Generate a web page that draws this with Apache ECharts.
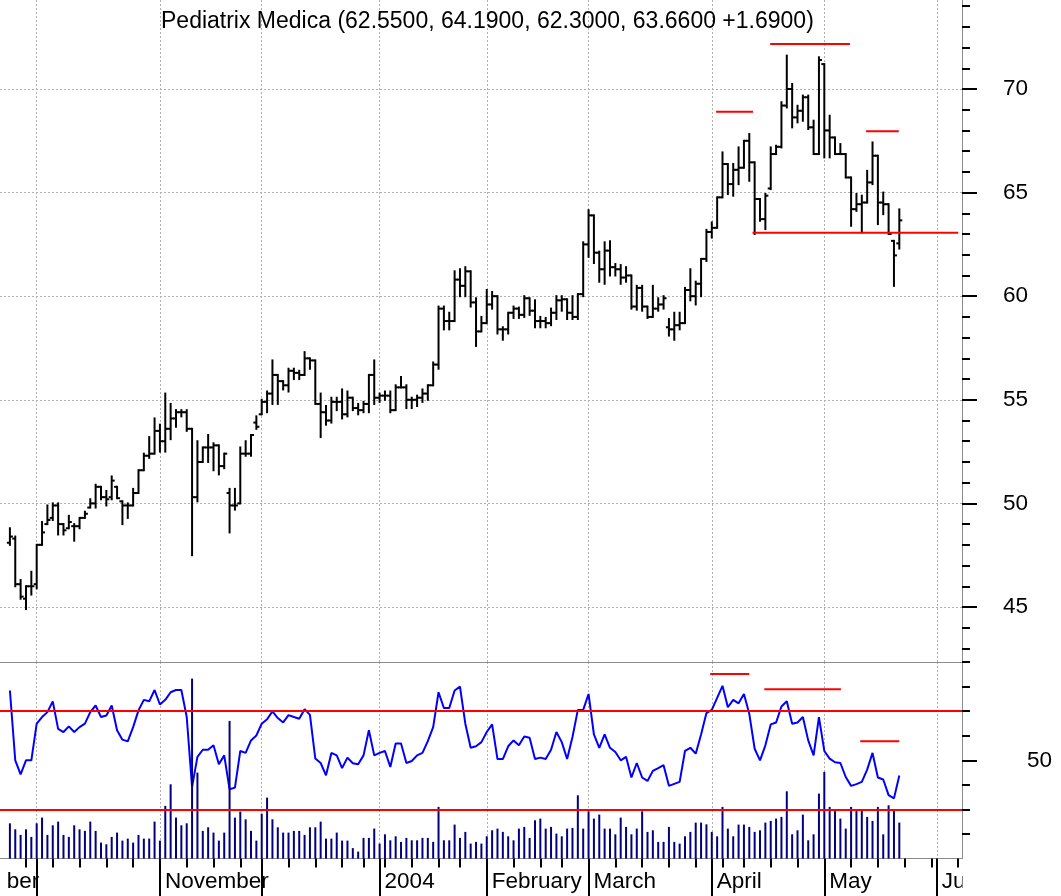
<!DOCTYPE html>
<html>
<head>
<meta charset="utf-8">
<title>Pediatrix Medica</title>
<script src="https://cdn.jsdelivr.net/npm/echarts@6/dist/echarts.min.js"></script>
<style>
  html, body { margin: 0; padding: 0; background: #fff; }
  #chart { width: 1061px; height: 896px; }
</style>
</head>
<body>
<div id="chart"></div>
<script>
const chartTitle = 'Pediatrix Medica (62.5500, 64.1900, 62.3000, 63.6600 +1.6900)';

// trading calendar: first bar 2003-09-24, last bar 2004-05-21
const calendarFrom = '2003-09-02';
const calendarTo = '2004-06-08';
const firstBar = '2003-09-24';
const lastBar = '2004-05-21';
const holidays = ['2003-11-27', '2003-12-25', '2004-01-01', '2004-01-19', '2004-02-16', '2004-04-09'];
const monthNames = {
    '2003-09': 'September', '2003-11': 'November', '2004-01': '2004', '2004-02': 'February',
    '2004-03': 'March', '2004-04': 'April', '2004-05': 'May', '2004-06': 'June'
};

const opens = [
    48.1, 48.3, 46.1, 45.4, 46.0, 46.1, 48.0, 49.0, 49.3, 49.9,
    49.0, 48.8, 48.9, 48.9, 49.3, 49.8, 50.0, 50.8, 50.3, 50.3,
    50.8, 50.1, 49.9, 49.9, 50.5, 51.6, 52.3, 52.4, 53.5, 53.0,
    53.6, 54.1, 54.4, 54.4, 53.6, 50.3, 52.0, 52.7, 52.7, 52.8,
    51.8, 50.5, 49.9, 50.0, 52.4, 52.4, 53.9, 54.3, 54.9, 55.3,
    56.2, 55.9, 55.7, 56.4, 56.3, 56.2, 57.0, 56.9, 54.8, 54.4,
    54.0, 54.9, 54.9, 54.3, 55.1, 54.6, 54.5, 54.8, 56.2, 55.1,
    55.2, 55.2, 54.5, 55.6, 55.6, 55.0, 55.0, 55.1, 55.3, 55.7,
    56.7, 59.4, 58.8, 58.8, 60.8, 60.5, 61.2, 59.7, 58.3, 58.7,
    59.6, 60.0, 58.4, 58.4, 59.2, 59.4, 59.1, 59.9, 59.3, 58.8,
    58.8, 58.7, 59.2, 59.8, 59.85, 59.2, 59.0, 60.1, 62.5, 63.9,
    62.1, 61.3, 62.2, 61.4, 61.3, 60.9, 61.0, 59.5, 60.4, 59.5,
    59.0, 59.4, 59.6, 58.5, 58.4, 58.6, 58.7, 60.3, 60.0, 60.6,
    61.8, 63.1, 63.3, 64.77, 66.38, 65.41, 66.1, 66.2, 67.5, 66.46,
    64.69, 63.72, 65.2, 66.86, 67.21, 69.2, 70.0, 68.63, 68.95, 69.6,
    68.15, 66.86, 71.2, 68.0, 67.66, 66.86, 66.86, 65.73, 64.2, 64.44,
    64.52, 65.49, 66.78, 64.52, 64.44, 62.67, 62.55
];
const highs = [
    48.8, 48.4, 46.3, 46.0, 46.7, 48.0, 49.1, 49.9, 50.0, 50.0,
    49.0, 49.4, 49.0, 49.3, 49.6, 50.2, 50.9, 50.8, 50.6, 51.3,
    50.8, 50.1, 50.0, 50.7, 51.6, 52.4, 53.2, 54.1, 53.8, 55.3,
    54.8, 54.5, 54.5, 54.5, 53.6, 53.0, 52.7, 53.3, 52.9, 52.8,
    52.4, 50.7, 50.7, 52.7, 53.0, 53.3, 54.2, 55.0, 55.4, 56.9,
    56.2, 55.9, 56.5, 56.5, 56.4, 57.3, 57.0, 56.9, 55.3, 54.7,
    55.1, 55.1, 55.5, 55.4, 55.1, 54.8, 54.9, 56.2, 56.9, 55.3,
    55.4, 55.4, 55.7, 56.1, 55.7, 55.1, 55.2, 55.5, 55.7, 56.8,
    59.5, 59.5, 59.2, 61.2, 61.3, 61.4, 61.2, 59.9, 59.0, 60.3,
    60.2, 60.0, 58.5, 59.2, 59.5, 59.45, 60.0, 59.9, 59.8, 59.0,
    58.95, 59.4, 60.0, 60.0, 59.85, 60.0, 60.1, 62.6, 64.15, 63.9,
    62.15, 62.6, 62.65, 61.55, 61.5, 61.4, 61.0, 60.5, 60.5, 59.5,
    60.5, 59.9, 60.0, 58.9, 59.2, 59.2, 60.4, 61.3, 60.7, 61.8,
    63.2, 63.56, 64.77, 66.94, 66.38, 66.38, 67.18, 67.5, 67.83, 66.46,
    64.69, 64.93, 67.18, 67.26, 69.36, 71.61, 70.24, 69.19, 69.68, 69.68,
    68.47, 71.53, 71.2, 68.71, 67.66, 67.34, 66.86, 65.73, 64.93, 64.85,
    66.05, 67.42, 66.78, 65.0, 64.44, 62.67, 64.19
];
const lows = [
    48.0, 46.0, 45.4, 44.9, 45.6, 45.9, 48.0, 49.0, 49.2, 48.5,
    48.5, 48.8, 48.2, 48.8, 49.3, 49.8, 49.8, 50.2, 49.9, 50.2,
    50.25, 49.0, 49.3, 49.9, 50.5, 51.6, 52.2, 52.4, 52.5, 52.5,
    53.1, 53.7, 54.2, 53.5, 47.5, 50.1, 52.0, 52.0, 51.6, 51.4,
    51.7, 48.6, 49.7, 50.0, 52.3, 52.3, 53.6, 54.3, 54.4, 54.8,
    54.8, 55.5, 55.4, 56.0, 56.0, 56.2, 56.5, 54.8, 53.2, 53.8,
    53.9, 54.5, 54.1, 54.2, 54.5, 54.3, 54.4, 54.4, 54.8, 54.9,
    55.0, 54.4, 54.5, 55.6, 54.6, 54.6, 54.7, 54.9, 55.0, 55.7,
    56.5, 58.4, 58.4, 58.8, 60.0, 60.0, 59.5, 57.6, 58.3, 58.7,
    59.4, 58.2, 57.9, 58.2, 58.95, 58.95, 59.0, 59.1, 58.5, 58.5,
    58.5, 58.6, 58.9, 59.3, 58.9, 58.9, 58.9, 60.0, 61.9, 61.6,
    60.7, 60.6, 61.0, 61.0, 60.6, 60.7, 59.4, 59.35, 59.3, 58.95,
    59.0, 59.3, 59.4, 58.1, 57.9, 58.4, 58.7, 59.8, 59.6, 60.0,
    61.7, 62.83, 63.3, 64.77, 64.93, 64.85, 65.41, 66.2, 65.57, 63.0,
    63.64, 63.24, 65.17, 66.86, 67.18, 69.11, 68.15, 68.39, 68.47, 68.07,
    66.86, 66.86, 66.7, 66.7, 66.86, 66.86, 65.73, 63.4, 64.12, 63.08,
    64.52, 65.41, 63.48, 63.96, 63.0, 60.5, 62.3
];
const closes = [
    48.4, 46.1, 45.5, 46.0, 46.0, 48.0, 48.6, 49.2, 49.9, 49.0,
    48.7, 49.1, 48.9, 49.3, 49.5, 50.0, 50.8, 50.3, 50.2, 51.1,
    50.25, 49.9, 49.9, 50.5, 51.6, 52.3, 52.4, 53.5, 53.0, 53.6,
    54.1, 54.4, 54.4, 53.6, 50.3, 52.0, 52.7, 52.7, 52.8, 51.8,
    52.4, 49.9, 49.9, 52.4, 52.4, 53.3, 53.7, 54.9, 55.3, 56.2,
    55.9, 55.7, 56.4, 56.3, 56.2, 57.0, 56.9, 54.8, 54.4, 54.0,
    54.9, 54.9, 54.3, 55.1, 54.6, 54.5, 54.8, 56.2, 55.1, 55.2,
    55.2, 54.5, 55.6, 55.6, 55.0, 55.0, 55.1, 55.3, 55.7, 56.7,
    59.4, 58.8, 58.8, 60.8, 60.5, 61.2, 59.7, 58.3, 58.7, 59.6,
    60.0, 58.4, 58.4, 59.2, 59.4, 59.1, 59.9, 59.3, 58.8, 58.8,
    58.7, 59.2, 59.8, 59.85, 59.2, 59.0, 60.1, 62.5, 63.9, 62.1,
    61.3, 62.2, 61.4, 61.3, 60.9, 61.0, 59.5, 60.4, 59.5, 59.0,
    59.4, 59.6, 59.9, 58.4, 58.6, 58.7, 60.3, 60.0, 60.6, 61.8,
    63.1, 63.3, 64.77, 66.38, 65.41, 66.1, 66.2, 67.5, 66.46, 64.69,
    63.72, 64.85, 66.86, 67.21, 69.2, 70.0, 68.63, 68.95, 69.6, 68.15,
    66.86, 71.4, 68.0, 67.66, 66.86, 66.86, 65.73, 64.2, 64.44, 64.52,
    65.49, 66.78, 64.52, 64.44, 63.0, 61.97, 63.66
];
const oscillator = [
    78.4, 50.0, 44.3, 50.0, 50.0, 64.9, 67.6, 69.6, 74.0, 62.8,
    61.5, 63.8, 61.5, 63.5, 64.9, 69.6, 72.3, 67.6, 68.2, 72.3,
    62.2, 58.4, 57.7, 63.5, 70.3, 74.6, 74.0, 78.6, 72.7, 74.6,
    77.7, 78.6, 78.6, 67.6, 39.2, 51.4, 54.3, 54.3, 56.1, 48.4,
    52.0, 38.2, 38.9, 53.8, 53.0, 58.1, 60.1, 64.9, 66.7, 69.9,
    67.2, 65.4, 68.4, 67.6, 66.9, 70.8, 68.5, 50.7, 48.9, 43.9,
    53.0, 52.0, 46.8, 51.1, 48.8, 48.4, 52.0, 62.2, 52.0, 53.0,
    53.8, 47.3, 56.8, 56.8, 48.9, 49.7, 52.0, 53.0, 57.8, 63.5,
    77.7, 71.3, 71.3, 78.4, 80.0, 64.9, 55.1, 55.7, 57.4, 61.5,
    64.6, 50.5, 50.5, 55.7, 58.1, 56.1, 59.7, 59.2, 50.5, 51.1,
    50.5, 54.3, 61.5, 57.4, 50.5, 59.5, 70.5, 70.5, 77.0, 60.5,
    55.1, 60.5, 55.1, 53.4, 50.0, 51.4, 43.0, 48.9, 43.0, 41.6,
    45.7, 46.8, 48.0, 39.6, 40.4, 41.2, 53.8, 55.1, 52.7, 60.5,
    69.2, 70.5, 75.4, 80.3, 71.6, 74.6, 73.2, 77.0, 68.9, 54.7,
    50.0, 56.1, 64.6, 65.4, 71.9, 74.0, 64.9, 65.4, 67.6, 58.1,
    52.0, 67.6, 53.8, 50.7, 49.2, 48.9, 43.2, 39.6, 40.3, 41.2,
    46.2, 53.0, 43.0, 42.2, 35.8, 34.5, 43.8
];
// volume, thousands of shares
const volumes = [
    353, 293, 237, 293, 217, 353, 410, 237, 333, 370,
    237, 217, 333, 293, 277, 370, 277, 160, 143, 217,
    260, 180, 200, 160, 237, 200, 200, 370, 180, 527,
    743, 410, 333, 353, 1800, 860, 277, 313, 260, 180,
    260, 1377, 410, 470, 393, 277, 180, 450, 610, 393,
    313, 260, 260, 277, 277, 237, 313, 313, 370, 200,
    200, 260, 180, 180, 105, 70, 207, 207, 300, 150,
    243, 183, 223, 167, 207, 183, 183, 207, 207, 167,
    517, 183, 183, 340, 207, 267, 150, 167, 150, 223,
    283, 300, 267, 223, 183, 300, 317, 207, 383, 400,
    300, 317, 250, 223, 300, 307, 633, 300, 473, 400,
    440, 300, 300, 243, 410, 317, 243, 300, 473, 267,
    283, 167, 167, 317, 167, 150, 223, 267, 360, 360,
    343, 267, 223, 517, 300, 223, 340, 340, 317, 267,
    283, 360, 377, 400, 417, 673, 243, 283, 440, 183,
    243, 650, 867, 517, 493, 400, 300, 517, 477, 477,
    417, 377, 517, 243, 533, 493, 360
];

// drawn levels: [from bar, to bar, value]
const priceLevels = [[131.8, 138.7, 68.9], [141.9, 156.8, 72.17], [159.8, 165.9, 67.96], [138.6, 177.0, 63.06]];
const oscLevels = [[130.7, 138.0, 85.1], [140.8, 155.1, 78.9], [158.7, 166.0, 57.8]];
const oscBands = [70, 30];

const priceMajor = [45, 50, 55, 60, 65, 70];
const priceMinor = [43, 44, 46, 47, 48, 49, 51, 52, 53, 54, 56, 57, 58, 59, 61, 62, 63, 64, 66, 67, 68, 69, 71, 72, 73, 74];
const oscMinor = [20, 30, 40, 60, 70, 80, 90];
const oscMajor = [50];

// ---- calendar ----
function tradingDays(from, to, untilHolidays) {
    const out = [];
    const d = new Date(from + 'T00:00:00Z');
    const end = new Date(to + 'T00:00:00Z');
    while (d <= end) {
        const wd = d.getUTCDay();
        const s = d.toISOString().slice(0, 10);
        const closed = s <= untilHolidays && holidays.includes(s);
        if (wd !== 0 && wd !== 6 && !closed) out.push(s);
        d.setUTCDate(d.getUTCDate() + 1);
    }
    return out;
}
const days = tradingDays(calendarFrom, calendarTo, lastBar);
const offset = days.indexOf(firstBar);
const idx = (k) => k - offset;

const monthStarts = [];
const weekStarts = [];
const labelAt = {};
days.forEach((s, k) => {
    const wd = new Date(s + 'T00:00:00Z').getUTCDay();
    const prev = k > 0 ? days[k - 1] : null;
    if (!prev || prev.slice(0, 7) !== s.slice(0, 7)) {
        monthStarts.push(idx(k));
        if (monthNames[s.slice(0, 7)]) labelAt[idx(k)] = monthNames[s.slice(0, 7)];
    }
    if (!prev || new Date(prev + 'T00:00:00Z').getUTCDay() >= wd) weekStarts.push(idx(k));
});

const X_MIN = -1.848;
const X_MAX = 177.7;
const inRange = (v) => v >= X_MIN && v <= X_MAX;
const monthTicks = monthStarts.filter(inRange);
const weekTicks = weekStarts.filter(inRange);
const labelTicks = Object.keys(labelAt).map(Number).filter(inRange);
const outsideLabels = Object.keys(labelAt).map(Number).filter((v) => v < X_MIN);

const ohlc = opens.map((o, i) => [i, o, highs[i], lows[i], closes[i]]);
const oscData = oscillator.map((v, i) => [i, v]);
const volData = volumes.map((v, i) => [i, v]);

const FONT = "'Liberation Sans', Arial, sans-serif";
const dotted = { color: '#b0b0b0', width: 1, type: [2, 2] };
const tickStyle = { color: '#000', width: 2 };
const axisGray = { color: '#8c8c8c', width: 1 };
const LABEL_MARGIN = 12;
const PRICE_MIN = 42.345, PRICE_MAX = 74.295;
const OSC_MIN = 10, OSC_MAX = 90;

// grids 2 and 3 sit exactly on 0 and 1 and only carry the second set of ticks
const priceGrid = { left: 0, right: 99, top: 0, height: 662 };
const lowerGrid = { left: 0, right: 99, top: 662, height: 196.6 };

function renderBar(params, api) {
    const x = api.coord([api.value(0), 0])[0];
    const yo = api.coord([0, api.value(1)])[1];
    const yh = api.coord([0, api.value(2)])[1];
    const yl = api.coord([0, api.value(3)])[1];
    const yc = api.coord([0, api.value(4)])[1];
    const st = { stroke: '#000', lineWidth: 2 };
    return {
        type: 'group',
        children: [
            { type: 'line', shape: { x1: x, y1: yh - 1, x2: x, y2: yl + 1 }, style: st },
            { type: 'line', shape: { x1: x - 3, y1: yo, x2: x, y2: yo }, style: st },
            { type: 'line', shape: { x1: x, y1: yc, x2: x + 3, y2: yc }, style: st }
        ]
    };
}

const segment = (lv, xAxisIndex, yAxisIndex) => ({
    type: 'line',
    xAxisIndex, yAxisIndex,
    data: [[lv[0], lv[2]], [lv[1], lv[2]]],
    showSymbol: false,
    silent: true,
    lineStyle: { color: '#ff0000', width: 2 },
    z: 5
});

const chart = echarts.init(document.getElementById('chart'), null, { renderer: 'canvas' });

chart.setOption({
    animation: false,
    backgroundColor: '#fff',
    textStyle: { fontFamily: FONT },
    title: {
        text: chartTitle,
        left: 161,
        top: 10,
        padding: 0,
        textStyle: { fontSize: 23, fontWeight: 'normal', color: '#000', fontFamily: FONT }
    },
    grid: [priceGrid, lowerGrid, { ...priceGrid }, { ...lowerGrid }],
    xAxis: [
        {
            type: 'value', gridIndex: 0, min: X_MIN, max: X_MAX,
            axisLine: { show: true, onZero: false, lineStyle: axisGray },
            axisTick: { show: true, customValues: monthTicks, length: 0, lineStyle: { color: 'transparent' } },
            axisLabel: { show: false },
            splitLine: { show: true, lineStyle: dotted }
        },
        {
            type: 'value', gridIndex: 1, min: X_MIN, max: X_MAX,
            axisLine: { show: true, onZero: false, lineStyle: axisGray },
            axisTick: { show: true, customValues: monthTicks, length: 38, lineStyle: tickStyle },
            axisLabel: {
                show: true,
                customValues: labelTicks,
                formatter: (v) => labelAt[Math.round(v)] || '',
                align: 'left',
                padding: [0, 0, 0, 5],
                margin: LABEL_MARGIN,
                fontSize: 22.5,
                color: '#000',
                fontFamily: FONT
            },
            splitLine: { show: true, lineStyle: dotted }
        },
        { type: 'value', gridIndex: 2, min: X_MIN, max: X_MAX, show: false },
        {
            type: 'value', gridIndex: 3, min: X_MIN, max: X_MAX, position: 'bottom',
            axisLine: { show: false, onZero: false },
            axisTick: { show: true, customValues: weekTicks, length: 9, lineStyle: tickStyle },
            axisLabel: { show: false },
            splitLine: { show: false }
        }
    ],
    yAxis: [
        {
            type: 'value', gridIndex: 0, position: 'right', min: PRICE_MIN, max: PRICE_MAX,
            axisLine: { show: true, onZero: false, lineStyle: axisGray },
            axisTick: { show: true, customValues: priceMajor, length: 15, lineStyle: tickStyle },
            axisLabel: { show: true, customValues: priceMajor, margin: 41, fontSize: 22.5, color: '#000', fontFamily: FONT },
            splitLine: { show: true, lineStyle: dotted }
        },
        {
            type: 'value', gridIndex: 2, position: 'right', min: PRICE_MIN, max: PRICE_MAX,
            axisLine: { show: false, onZero: false },
            axisTick: { show: true, customValues: priceMinor, length: 8, lineStyle: tickStyle },
            axisLabel: { show: false },
            splitLine: { show: false }
        },
        {
            type: 'value', gridIndex: 1, position: 'right', min: OSC_MIN, max: OSC_MAX,
            axisLine: { show: true, onZero: false, lineStyle: axisGray },
            axisTick: { show: true, customValues: oscMajor, length: 15, lineStyle: tickStyle },
            axisLabel: { show: true, customValues: oscMajor, margin: 65, fontSize: 22.5, color: '#000', fontFamily: FONT },
            splitLine: { show: false }
        },
        {
            type: 'value', gridIndex: 1, position: 'left', min: 0, max: 1966, show: false
        },
        {
            type: 'value', gridIndex: 3, position: 'right', min: OSC_MIN, max: OSC_MAX,
            axisLine: { show: false, onZero: false },
            axisTick: { show: true, customValues: oscMinor, length: 8, lineStyle: tickStyle },
            axisLabel: { show: false },
            splitLine: { show: false }
        }
    ],
    series: [
        {
            type: 'custom',
            name: 'Price',
            xAxisIndex: 0, yAxisIndex: 0,
            renderItem: renderBar,
            encode: { x: 0, y: [1, 2, 3, 4] },
            data: ohlc,
            z: 3
        },
        ...priceLevels.map((lv) => segment(lv, 0, 0)),
        {
            type: 'line',
            name: 'Oscillator',
            xAxisIndex: 1, yAxisIndex: 2,
            data: oscData,
            showSymbol: false,
            lineStyle: { color: '#0000ff', width: 2 },
            markLine: {
                silent: true,
                symbol: 'none',
                label: { show: false },
                lineStyle: { color: '#ff0000', width: 2, type: 'solid' },
                data: oscBands.map((v) => ({ yAxis: v }))
            },
            z: 3
        },
        ...oscLevels.map((lv) => segment(lv, 1, 2)),
        {
            type: 'bar',
            name: 'Volume',
            xAxisIndex: 1, yAxisIndex: 3,
            data: volData,
            barWidth: 2,
            itemStyle: { color: '#000080' },
            z: 4
        }
    ]
});

// label of the month whose first day lies left of the axis start, and masks outside the axis span
const grid1Bottom = lowerGrid.top + lowerGrid.height;
const axisRight = chart.convertToPixel({ xAxisIndex: 1 }, X_MAX);
const graphics = outsideLabels.map((v) => ({
    type: 'text',
    x: chart.convertToPixel({ xAxisIndex: 1 }, v) + 5,
    y: grid1Bottom + LABEL_MARGIN,
    style: { text: labelAt[v], fontSize: 22.5, fontFamily: FONT, fill: '#000', verticalAlign: 'top', align: 'left' },
    silent: true
}));
graphics.push(
    { type: 'rect', shape: { x: axisRight + 0.5, y: grid1Bottom + 1, width: 120, height: 60 }, style: { fill: '#fff' }, z: 100, silent: true },
    { type: 'rect', shape: { x: 0, y: grid1Bottom + LABEL_MARGIN, width: 6, height: 40 }, style: { fill: '#fff' }, z: 100, silent: true }
);
chart.setOption({ graphic: graphics });
</script>
</body>
</html>
